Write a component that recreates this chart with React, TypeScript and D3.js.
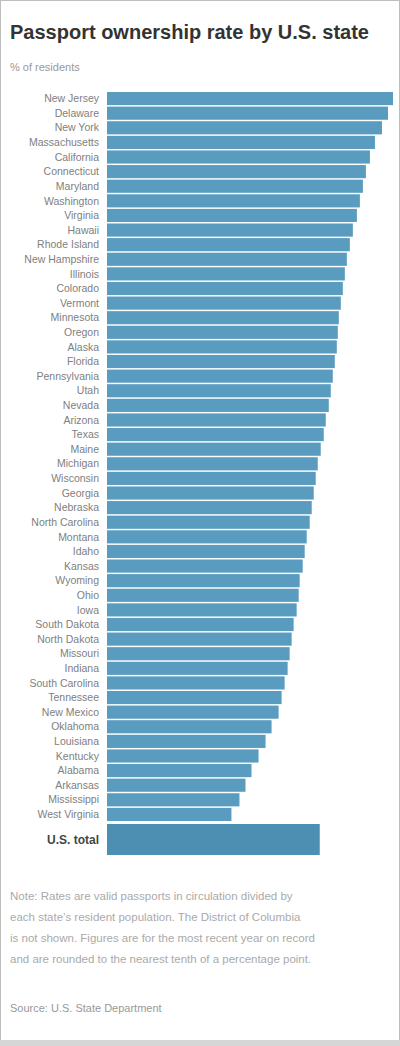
import React from 'react';
import * as d3 from 'd3';

const states = [
  'New Jersey', 'Delaware', 'New York', 'Massachusetts', 'California', 'Connecticut',
  'Maryland', 'Washington', 'Virginia', 'Hawaii', 'Rhode Island', 'New Hampshire',
  'Illinois', 'Colorado', 'Vermont', 'Minnesota', 'Oregon', 'Alaska', 'Florida',
  'Pennsylvania', 'Utah', 'Nevada', 'Arizona', 'Texas', 'Maine', 'Michigan',
  'Wisconsin', 'Georgia', 'Nebraska', 'North Carolina', 'Montana', 'Idaho', 'Kansas',
  'Wyoming', 'Ohio', 'Iowa', 'South Dakota', 'North Dakota', 'Missouri', 'Indiana',
  'South Carolina', 'Tennessee', 'New Mexico', 'Oklahoma', 'Louisiana', 'Kentucky',
  'Alabama', 'Arkansas', 'Mississippi', 'West Virginia'
];

const rates = [
  57.0, 56.0, 54.8, 53.4, 52.4, 51.6, 51.0, 50.4, 49.8, 49.0,
  48.4, 47.8, 47.4, 47.0, 46.6, 46.2, 46.0, 45.8, 45.4, 45.0,
  44.6, 44.2, 43.6, 43.2, 42.6, 42.0, 41.6, 41.2, 40.8, 40.4,
  39.8, 39.4, 39.0, 38.4, 38.2, 37.8, 37.2, 36.8, 36.4, 36.0,
  35.4, 34.8, 34.2, 32.8, 31.6, 30.2, 28.8, 27.6, 26.4, 24.8
];

const totalLabel = 'U.S. total';
const totalRate = 42.4;

const title = 'Passport ownership rate by U.S. state';
const subtitle = '% of residents';
const notes = [
  'Note: Rates are valid passports in circulation divided by',
  'each state\u2019s resident population. The District of Columbia',
  'is not shown. Figures are for the most recent year on record',
  'and are rounded to the nearest tenth of a percentage point.'
];
const source = 'Source: U.S. State Department';

const W = 400;
const H = 1046;
const left = 107;
const right = 393;
const font = '"Liberation Sans", Arial, sans-serif';

export default function App() {
  const x = d3.scaleLinear().domain([0, d3.max(rates) as number]).range([0, right - left]);
  const y = d3.scaleBand<string>().domain(states).range([92, 821]).paddingInner(0.1);
  const totalY = 824;
  const totalH = 31;

  return (
    <svg width={W} height={H} style={{ position: 'absolute', top: 0, left: 0, fontFamily: font }}>
      <rect x={0.5} y={0.5} width={W - 1} height={H - 1} fill="#fff" stroke="#bdbdbd" />
      <rect x={0} y={H - 6} width={W} height={6} fill="#d6d6d6" />
      <text x={10} y={39} fontSize={20} fontWeight="bold" fill="#333">{title}</text>
      <text x={10} y={71} fontSize={11} fill="#999">{subtitle}</text>

      {states.map((s, i) => (
        <g key={s}>
          <rect x={left} y={y(s)} width={x(rates[i])} height={y.bandwidth()} fill="#5a9cbf" />
          <text
            x={99}
            y={(y(s) as number) + y.bandwidth() / 2}
            dy="0.35em"
            textAnchor="end"
            fontSize={10.5}
            fill="#808080"
          >
            {s}
          </text>
        </g>
      ))}

      <rect x={left} y={totalY} width={x(totalRate)} height={totalH} fill="#4d8fb2" />
      <text x={99} y={totalY + totalH / 2} dy="0.35em" textAnchor="end" fontSize={12} fontWeight="bold" fill="#444">
        {totalLabel}
      </text>

      {notes.map((n, i) => (
        <text key={i} x={10} y={900 + i * 21} fontSize={11.5} fill="#aaa">{n}</text>
      ))}
      <text x={10} y={1012} fontSize={11} fill="#999">{source}</text>
    </svg>
  );
}
